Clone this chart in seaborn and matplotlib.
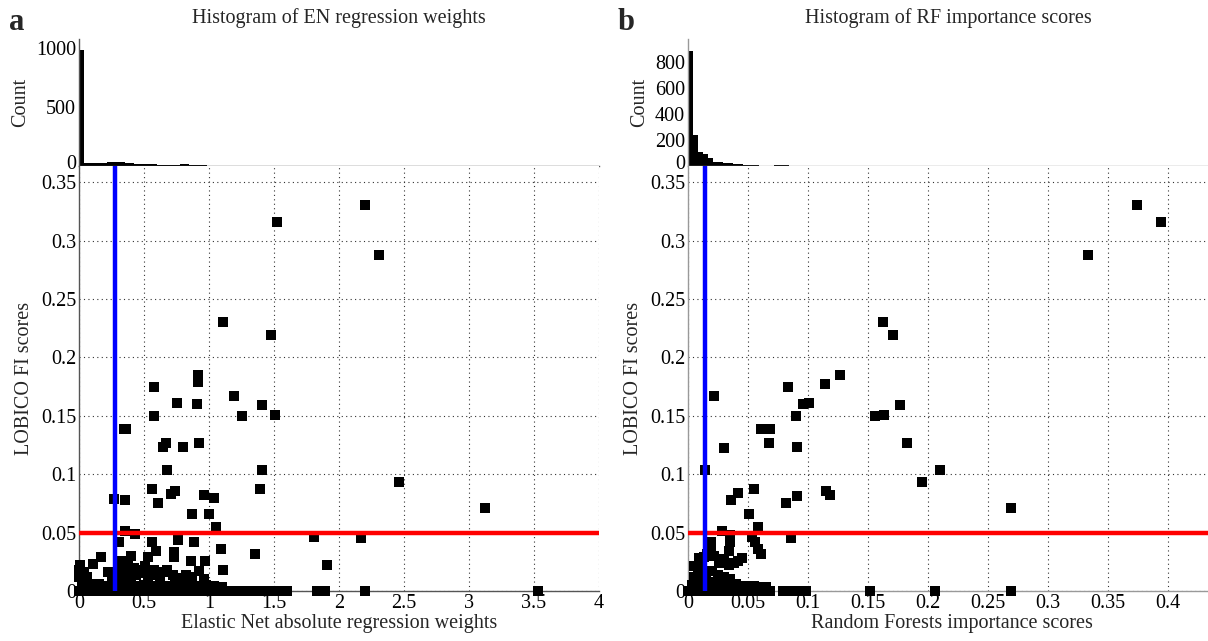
import matplotlib
matplotlib.use("Agg")
import numpy as np
import pandas as pd
import matplotlib.pyplot as plt
import matplotlib.transforms as mtransforms
import seaborn as sns

sns.set_theme(style="white")
plt.rcParams['font.family'] = ['Liberation Serif', 'DejaVu Serif']

# ---------------- histogram counts (bins start at 0) ----------------
en_bin_width = 0.0353
en_hist_counts = [985, 28, 27, 26, 27, 28, 30, 34, 34, 30, 28, 26, 20, 20, 18,
                  17, 16, 11, 12, 10, 11, 12, 16, 17, 8, 9, 7, 8, 3, 3,
                  0, 3, 1, 0, 0, 0, 0, 0, 3, 3, 1]

rf_bin_width = 0.0042
rf_hist_counts = [890, 238, 108, 95, 59, 31, 31, 20, 20, 13, 13, 8, 8, 8,
                  1, 1, 1, 5, 5, 4, 3, 3]

# ---------------- Elastic Net weights vs LOBICO FI scores ----------------
en_w_high = [2.20, 1.52, 2.31, 1.11, 1.48,
             0.915, 0.915, 0.58, 1.19, 0.75, 0.907, 1.41,
             0.58, 1.25, 1.51, 0.345, 0.36,
             0.668, 0.646, 0.797, 0.92, 0.676, 1.405,
             2.46, 0.56, 0.74, 0.71, 0.96, 1.04, 1.39,
             0.27, 0.35, 0.61, 0.87, 1.00, 3.12, 1.05,
             0.35, 0.43, 1.81, 2.17, 0.31, 0.56, 0.76, 0.886,
             1.095, 0.59, 0.73, 0.73, 1.35, 0.40, 0.38, 0.53,
             0.17, 0.11, 0.01, 0.32, 0.86, 0.97, 1.91]
en_fi_high = [0.331, 0.316, 0.288, 0.230, 0.219,
              0.185, 0.179, 0.175, 0.167, 0.161, 0.160, 0.159,
              0.150, 0.150, 0.151, 0.139, 0.139,
              0.127, 0.123, 0.123, 0.127, 0.104, 0.104,
              0.093, 0.087, 0.086, 0.083, 0.082, 0.080, 0.087,
              0.079, 0.078, 0.075, 0.066, 0.066, 0.0707, 0.055,
              0.051, 0.049, 0.046, 0.045, 0.042, 0.042, 0.044, 0.042,
              0.036, 0.034, 0.033, 0.029, 0.032, 0.030, 0.025, 0.029,
              0.029, 0.023, 0.022, 0.026, 0.026, 0.026, 0.022]

# features with a zero LOBICO score
en_w_zero = [0.00, 0.04, 0.08, 0.12, 0.16, 0.20, 0.24, 0.28, 0.32, 0.36,
             0.40, 0.44, 0.48, 0.52, 0.56, 0.60, 0.64, 0.68, 0.72, 0.76,
             0.80, 0.84, 0.88, 0.92, 0.96, 1.00, 1.04, 1.08, 1.12, 1.16,
             1.20, 1.24, 1.28, 1.32, 1.36, 1.40, 1.44, 1.48, 1.52, 1.56,
             1.60, 1.83, 1.89, 2.20, 3.53]
# features with a small LOBICO score
en_w_low = [0.02, 0.08, 0.14, 0.20, 0.26, 0.32, 0.38, 0.44, 0.50, 0.56,
            0.62, 0.68, 0.74, 0.80, 0.86, 0.92, 0.98, 1.04, 1.10,
            0.00, 0.00, 0.04, 0.06, 0.22, 0.25, 0.30, 0.34, 0.40, 0.44,
            0.49, 0.53, 0.58, 0.62, 0.68, 0.72, 0.76, 0.82, 0.87, 0.92,
            0.96, 1.11, 0.15, 0.10, 0.28, 0.36, 0.46, 0.55, 0.65,
            0.33, 0.42, 0.51, 0.78, 0.84]
en_fi_low = [0.005, 0.004, 0.005, 0.004, 0.005, 0.004, 0.005, 0.004, 0.005, 0.004,
             0.005, 0.004, 0.005, 0.004, 0.005, 0.004, 0.005, 0.004, 0.003,
             0.018, 0.012, 0.016, 0.012, 0.016, 0.012, 0.016, 0.013, 0.011, 0.014,
             0.018, 0.013, 0.018, 0.014, 0.018, 0.014, 0.011, 0.014, 0.012, 0.017,
             0.010, 0.018, 0.006, 0.006, 0.012, 0.017, 0.015, 0.014, 0.016,
             0.022, 0.020, 0.021, 0.009, 0.010]

# ---------------- Random Forests importance vs LOBICO FI scores ----------------
rf_imp_high = [0.374, 0.394, 0.333, 0.1626, 0.171, 0.127, 0.114, 0.083,
               0.0217, 0.0957, 0.101, 0.177, 0.090, 0.156, 0.163,
               0.061, 0.068, 0.0674, 0.030, 0.091, 0.1826, 0.014, 0.210,
               0.195, 0.055, 0.042, 0.036, 0.115, 0.118, 0.0906, 0.082,
               0.0506, 0.269, 0.058, 0.086, 0.028, 0.035, 0.053, 0.056,
               0.035, 0.034, 0.058, 0.061, 0.019]
rf_fi_high = [0.331, 0.316, 0.288, 0.230, 0.219, 0.185, 0.177, 0.175,
              0.167, 0.160, 0.161, 0.159, 0.150, 0.150, 0.151,
              0.139, 0.139, 0.127, 0.1225, 0.123, 0.127, 0.104, 0.104,
              0.093, 0.087, 0.084, 0.078, 0.086, 0.082, 0.081, 0.075,
              0.066, 0.0707, 0.055, 0.045, 0.051, 0.048, 0.046, 0.042,
              0.042, 0.034, 0.036, 0.032, 0.042]

rf_imp_zero = [0.000, 0.004, 0.008, 0.012, 0.016, 0.020, 0.024, 0.028, 0.032,
               0.036, 0.040, 0.044, 0.048, 0.052, 0.056, 0.060, 0.064, 0.068,
               0.079, 0.085, 0.092, 0.098, 0.152, 0.206, 0.269]
rf_imp_low = [0.003, 0.005, 0.008, 0.005, 0.009, 0.013, 0.012, 0.016, 0.019,
              0.022, 0.026, 0.030, 0.034, 0.038, 0.042, 0.045, 0.020, 0.025,
              0.030, 0.035, 0.040, 0.045, 0.010, 0.015, 0.020, 0.027, 0.033,
              0.012, 0.018, 0.050, 0.055, 0.060, 0.065]
rf_fi_low = [0.005, 0.012, 0.018, 0.021, 0.028, 0.029, 0.022, 0.032, 0.035,
             0.030, 0.024, 0.027, 0.022, 0.024, 0.026, 0.028, 0.017, 0.014,
             0.012, 0.010, 0.006, 0.004, 0.010, 0.012, 0.008, 0.006, 0.004,
             0.005, 0.003, 0.004, 0.004, 0.003, 0.003]

en_threshold = 0.28
rf_threshold = 0.0145
fi_threshold = 0.05

en_xticks = [0, 0.5, 1, 1.5, 2, 2.5, 3, 3.5, 4]
en_xticklabels = ['0', '0.5', '1', '1.5', '2', '2.5', '3', '3.5', '4']
rf_xticks = [0, 0.05, 0.1, 0.15, 0.2, 0.25, 0.3, 0.35, 0.4]
rf_xticklabels = ['0', '0.05', '0.1', '0.15', '0.2', '0.25', '0.3', '0.35', '0.4']
fi_yticks = [0, 0.05, 0.1, 0.15, 0.2, 0.25, 0.3, 0.35]
fi_yticklabels = ['0', '0.05', '0.1', '0.15', '0.2', '0.25', '0.3', '0.35']
en_count_ticks = [0, 500, 1000]
rf_count_ticks = [0, 200, 400, 600, 800]

# ---------------- figure layout ----------------
W, H = 1208, 641
fig = plt.figure(figsize=(W / 100, H / 100), dpi=100)


def rect(x0, y0, x1, y1):
    return [x0 / W, 1 - y1 / H, (x1 - x0) / W, (y1 - y0) / H]


FS = 14.5
AXIS_GREY = '#555555'


def style_axes(ax, spine_color):
    for side in ('top', 'right'):
        ax.spines[side].set_visible(False)
    for side in ('left', 'bottom'):
        ax.spines[side].set_color(spine_color)
        ax.spines[side].set_linewidth(1.0)
    ax.tick_params(direction='in', length=5, width=0.8, colors='#333333',
                   labelsize=FS, labelcolor='black', pad=2)


def draw_hist(ax, counts, width, xlim, ymax, yticks, spine_color):
    edges = np.arange(len(counts) + 1) * width
    centers = (edges[:-1] + edges[1:]) / 2
    hist_df = pd.DataFrame({'value': centers, 'count': counts})
    sns.histplot(data=hist_df, x='value', weights='count', bins=list(edges), ax=ax,
                 color='black', alpha=1.0, linewidth=0, element='bars')
    ax.set_xlim(*xlim)
    ax.set_ylim(0, ymax)
    ax.set_yticks(yticks)
    ax.set_yticklabels([str(t) for t in yticks])
    ax.set_xlabel('')
    ax.set_ylabel('Count', fontsize=FS, labelpad=4)
    style_axes(ax, spine_color)
    # lift the baseline label a little so it clears the scatter's top label
    zero_label = ax.get_yticklabels()[0]
    zero_label.set_transform(zero_label.get_transform() +
                             mtransforms.ScaledTranslation(0, 3 / 72, fig.dpi_scale_trans))


def draw_scatter(ax, xs, ys, xlim, xticks, xticklabels, xlabel, vline, spine_color):
    df = pd.DataFrame({'x': xs, 'y': ys})
    sns.scatterplot(data=df, x='x', y='y', ax=ax, marker='s', color='black',
                    s=52, linewidth=0, zorder=3)
    for coll in ax.collections:
        coll.set_clip_on(False)
    ax.axhline(fi_threshold, color='#ff0000', lw=3.2, zorder=4)
    ax.axvline(vline, color='#0000ff', lw=3.2, zorder=5)
    ax.set_xlim(*xlim)
    ax.set_ylim(0, 0.364)
    ax.set_xticks(xticks)
    ax.set_xticklabels(xticklabels)
    ax.set_yticks(fi_yticks)
    ax.set_yticklabels(fi_yticklabels)
    ax.grid(True, linestyle=(0, (1, 3)), color='#333333', linewidth=0.8)
    ax.set_axisbelow(True)
    ax.set_xlabel(xlabel, fontsize=FS, labelpad=1)
    ax.set_ylabel('LOBICO FI scores', fontsize=FS, labelpad=5)
    style_axes(ax, spine_color)


# panel a
ax_ha = fig.add_axes(rect(79, 39, 599, 166))
ax_sa = fig.add_axes(rect(79, 166, 599, 591))
draw_hist(ax_ha, en_hist_counts, en_bin_width, (0, 4), 1078, en_count_ticks, AXIS_GREY)
ax_ha.set_xticks(en_xticks)
ax_ha.set_xticklabels([])
draw_scatter(ax_sa, en_w_high + en_w_zero + en_w_low,
             en_fi_high + [0.0] * len(en_w_zero) + en_fi_low,
             (0, 4), en_xticks, en_xticklabels,
             'Elastic Net absolute regression weights', en_threshold, AXIS_GREY)

# panel b
ax_hb = fig.add_axes(rect(688, 39, 1216, 166))
ax_sb = fig.add_axes(rect(688, 166, 1216, 591))
draw_hist(ax_hb, rf_hist_counts, rf_bin_width, (0, 0.44), 980, rf_count_ticks, '#999999')
ax_hb.set_xticks(rf_xticks)
ax_hb.set_xticklabels([])
draw_scatter(ax_sb, rf_imp_high + rf_imp_zero + rf_imp_low,
             rf_fi_high + [0.0] * len(rf_imp_zero) + rf_fi_low,
             (0, 0.44), rf_xticks, rf_xticklabels,
             'Random Forests importance scores', rf_threshold, '#999999')

fig.text(339 / W, 1 - 18 / H, 'Histogram of EN regression weights',
         ha='center', va='center', fontsize=FS)
fig.text(948 / W, 1 - 18 / H, 'Histogram of RF importance scores',
         ha='center', va='center', fontsize=FS)
fig.text(17 / W, 1 - 22 / H, 'a', ha='center', va='center', fontsize=22, fontweight='bold')
fig.text(626 / W, 1 - 22 / H, 'b', ha='center', va='center', fontsize=22, fontweight='bold')

fig.savefig('out.png', dpi=100, facecolor='white')
